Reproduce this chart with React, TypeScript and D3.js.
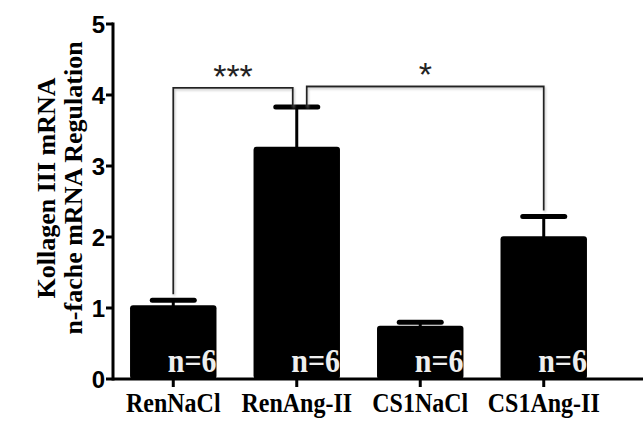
import React from "react";
import * as d3 from "d3";

const groups = ["RenNaCl", "RenAng-II", "CS1NaCl", "CS1Ang-II"];
const means = [1.04, 3.27, 0.75, 2.01];
const sem = [0.07, 0.56, 0.05, 0.28];
const nLabels = ["n=6", "n=6", "n=6", "n=6"];
const yTicks = [0, 1, 2, 3, 4, 5];
// significance brackets: from group, to group, bracket height, stars
const sigFrom = [0, 3];
const sigTo = [1, 1];
const sigLevel = [4.1, 4.12];
const sigStars = ["***", "*"];

export default function App() {
  const width = 643;
  const height = 421;
  const margin = { top: 24, right: 0, bottom: 42, left: 113 };

  const x = d3
    .scaleBand()
    .domain(groups)
    .range([margin.left, 604])
    .paddingInner(0.3)
    .paddingOuter(0.138);
  const y = d3
    .scaleLinear()
    .domain([0, 5])
    .range([height - margin.bottom, margin.top]);

  const cx = (g) => x(g) + x.bandwidth() / 2;
  const serif = "'Liberation Serif', 'Times New Roman', serif";
  const sans = "'Liberation Sans', Arial, sans-serif";

  return (
    <svg
      width={width}
      height={height}
      style={{ position: "absolute", left: 0, top: 0, background: "white" }}
    >
      <defs>
        <filter id="shadow" x="-5%" y="-5%" width="110%" height="110%">
          <feDropShadow dx="1" dy="1.5" stdDeviation="1" floodColor="#999" floodOpacity="0.6" />
        </filter>
      </defs>

      {/* bars */}
      {groups.map((g, i) => (
        <rect
          key={g}
          x={x(g)}
          y={y(means[i])}
          width={x.bandwidth()}
          height={y(0) - y(means[i])}
          rx={3}
          fill="black"
        />
      ))}

      {/* error bars */}
      {groups.map((g, i) => (
        <g key={g} stroke="black" strokeLinecap="round">
          <line x1={cx(g)} x2={cx(g)} y1={y(means[i])} y2={y(means[i] + sem[i])} strokeWidth={3} />
          <line
            x1={cx(g) - 21}
            x2={cx(g) + 21}
            y1={y(means[i] + sem[i])}
            y2={y(means[i] + sem[i])}
            strokeWidth={5}
          />
        </g>
      ))}

      {/* n labels */}
      {groups.map((g, i) => (
        <text
          key={g}
          transform={`translate(${x(g) + x.bandwidth()},${y(0) - 7}) scale(1,1.15)`}
          textAnchor="end"
          fill="#eeeeee"
          fontFamily={serif}
          fontWeight="bold"
          fontSize={30}
        >
          {nLabels[i]}
        </text>
      ))}

      {/* significance brackets */}
      {sigFrom.map((f, k) => {
        const t = sigTo[k];
        const xa = cx(groups[f]);
        const xb = cx(groups[t]) + (t > f ? -4 : 10);
        const yl = y(sigLevel[k]);
        const ya = y(means[f] + sem[f]) - 6;
        const yb = y(means[t] + sem[t]);
        const xm = (xa + xb) / 2;
        return (
          <g key={k}>
            <path
              d={`M${xa},${ya}V${yl}H${xb}V${yb}`}
              fill="none"
              stroke="#222"
              strokeWidth={1.8}
              filter="url(#shadow)"
            />
            <text
              x={xm}
              y={yl}
              textAnchor="middle"
              fontFamily={sans}
              fontSize={34}
              fill="#222"
            >
              {sigStars[k]}
            </text>
          </g>
        );
      })}

      {/* axes */}
      <g stroke="black" strokeWidth={3}>
        <line x1={margin.left} x2={margin.left} y1={y(5) - 1.5} y2={y(0) + 1.5} />
        <line x1={margin.left} x2={width} y1={y(0)} y2={y(0)} />
        {yTicks.map((t) => (
          <line key={t} x1={margin.left - 7} x2={margin.left} y1={y(t)} y2={y(t)} />
        ))}
        {groups.map((g) => (
          <line key={g} x1={cx(g)} x2={cx(g)} y1={y(0)} y2={y(0) + 8} />
        ))}
      </g>
      {yTicks.map((t) => (
        <text
          key={t}
          x={margin.left - 8}
          y={y(t)}
          dy="0.36em"
          textAnchor="end"
          fontFamily={sans}
          fontWeight="bold"
          fontSize={24}
        >
          {t}
        </text>
      ))}
      {groups.map((g) => (
        <text
          key={g}
          transform={`translate(${cx(g)},412) scale(1,1.12)`}
          textAnchor="middle"
          fontFamily={serif}
          fontWeight="bold"
          fontSize={24}
        >
          {g}
        </text>
      ))}

      {/* y title */}
      <g transform="translate(0,188) rotate(-90)" fontFamily={serif} fontWeight="bold" fontSize={26}>
        <text x={0} y={55} textAnchor="middle">
          Kollagen III mRNA
        </text>
        <text x={0} y={82} textAnchor="middle">
          n-fache mRNA Regulation
        </text>
      </g>
    </svg>
  );
}
